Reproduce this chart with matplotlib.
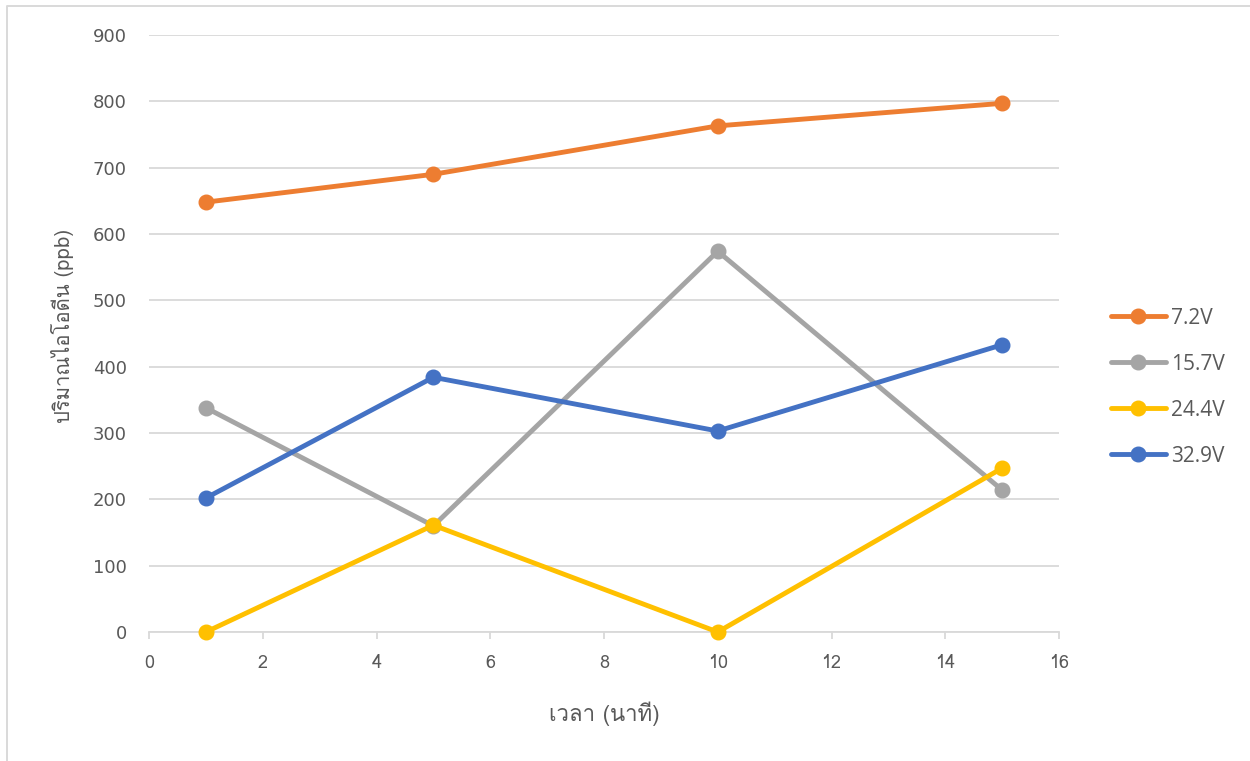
import matplotlib
matplotlib.use("Agg")
import matplotlib.pyplot as plt
from matplotlib import font_manager
from matplotlib.ft2font import FT2Font
from matplotlib.lines import Line2D

# Series data: time in minutes vs iodine amount (ppb)
time_min = [1, 5, 10, 15]
series_labels = ["7.2V", "15.7V", "24.4V", "32.9V"]
v_7_2 = [648, 690, 763, 797]
v_15_7 = [338, 160, 574, 214]
v_24_4 = [0, 161, 0, 247]
v_32_9 = [202, 384, 303, 433]
x_ticks = [0, 2, 4, 6, 8, 10, 12, 14, 16]
y_ticks = [0, 100, 200, 300, 400, 500, 600, 700, 800, 900]
x_title = "เวลา (นาที)"
y_title = "ปริมาณไอโอดีน (ppb)"

colors = ["#ED7D31", "#A5A5A5", "#FFC000", "#4472C4"]
text_color = "#595959"
grid_color = "#D9D9D9"


def find_thai_family():
    seen = set()
    for f in font_manager.fontManager.ttflist:
        if f.name in seen:
            continue
        seen.add(f.name)
        try:
            cmap = FT2Font(f.fname).get_charmap()
        except Exception:
            continue
        if 0x0E1B in cmap and 0x0E32 in cmap:
            return f.name
    return None


thai_family = find_thai_family()
thai_fams = ["DejaVu Sans"] if thai_family is None else [thai_family, "DejaVu Sans"]

W, H = 1250, 761
fig = plt.figure(figsize=(W / 100, H / 100), dpi=100)
fig.patch.set_facecolor("white")
ax = fig.add_axes([149 / W, 129 / H, 910 / W, 597 / H])

all_series = [v_7_2, v_15_7, v_24_4, v_32_9]
for vals, lab, col in zip(all_series, series_labels, colors):
    ax.plot(time_min, vals, color=col, lw=3.5, marker="o", ms=10.5,
            solid_capstyle="round", label=lab, zorder=3, clip_on=False)

ax.set_xlim(0, 16)
ax.set_ylim(0, 900)
ax.set_xticks(x_ticks)
ax.set_yticks(y_ticks)
ax.grid(axis="y", color=grid_color, lw=1.3, zorder=0)
for s in ["top", "right", "left"]:
    ax.spines[s].set_visible(False)
ax.spines["bottom"].set_color(grid_color)
ax.spines["bottom"].set_linewidth(1.3)
ax.tick_params(axis="y", length=0, pad=16, labelsize=13, labelcolor=text_color)
ax.tick_params(axis="x", length=5, width=1.3, color=grid_color, pad=11,
               labelsize=13, labelcolor=text_color)
for lbl in ax.get_yticklabels():
    lbl.set_family("DejaVu Sans")
for lbl in ax.get_xticklabels():
    lbl.set_family(thai_fams)

fig.text(604 / W, 1 - 714 / H, x_title, ha="center", va="center",
         fontsize=16, color=text_color, family=thai_fams)
fig.text(63 / W, 1 - 326 / H, y_title, ha="center", va="center",
         rotation=90, fontsize=14.6, color=text_color, family=thai_fams)

leg = ax.legend(loc="center left", bbox_to_anchor=(1092 / W, 1 - 387 / H),
                bbox_transform=fig.transFigure, frameon=False,
                handlelength=2.65, handletextpad=0.25, labelspacing=1.2,
                prop={"family": "Open Sans", "size": 15})
for t in leg.get_texts():
    t.set_color(text_color)

# light frame along the top and left edges
fig.add_artist(Line2D([7 / W, 7 / W, 1.0], [0.0, 1 - 5.5 / H, 1 - 5.5 / H],
                      transform=fig.transFigure, color="#D9D9D9", lw=1.4))

fig.savefig("out.png", dpi=100, facecolor="white")
